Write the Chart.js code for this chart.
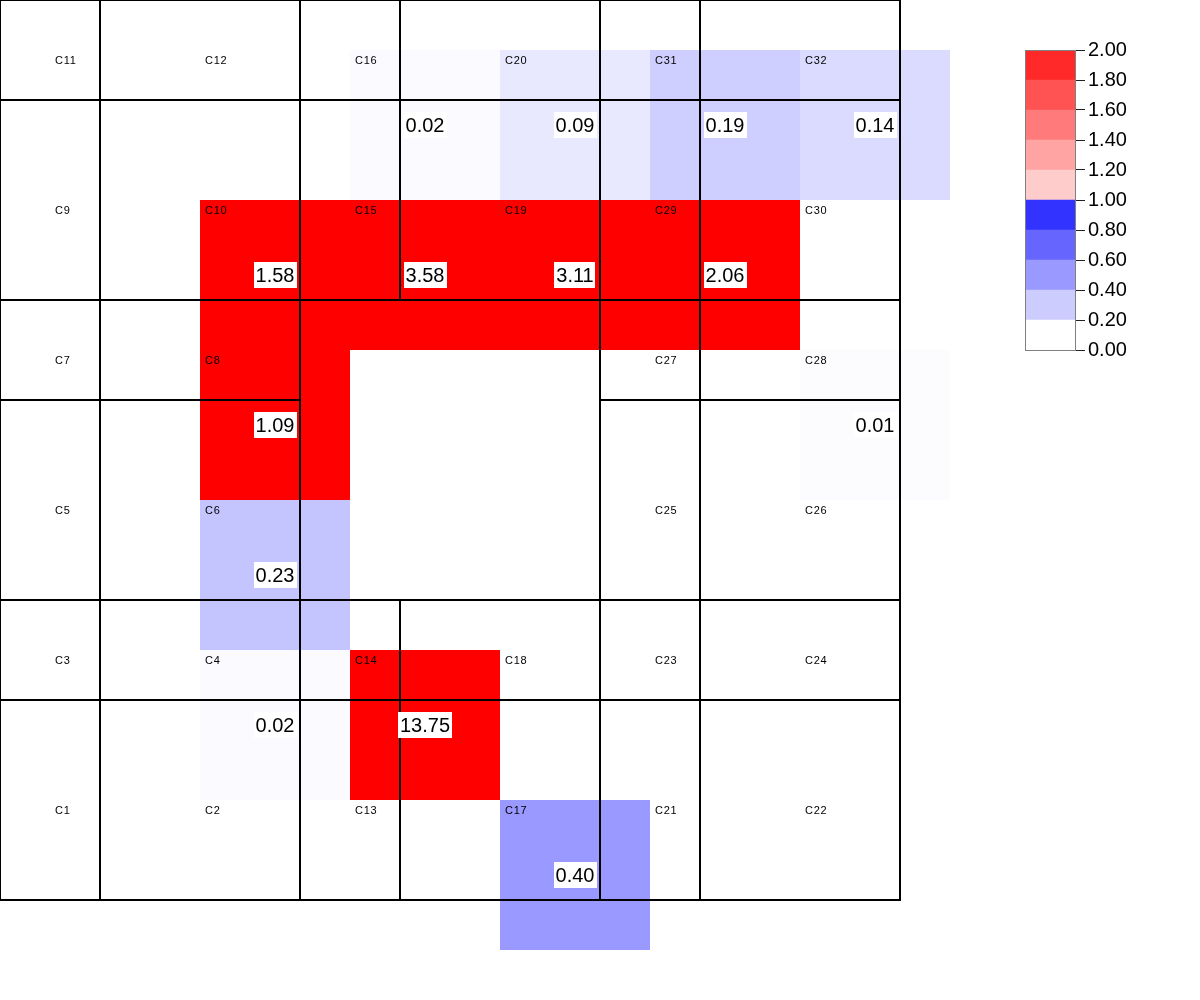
<!DOCTYPE html>
<html>
<head>
<meta charset="utf-8">
<script src="https://cdn.jsdelivr.net/npm/chart.js@4.4.1/dist/chart.umd.min.js"></script>
<style>
  html, body { margin: 0; padding: 0; background: #fff; }
  #wrap { position: relative; width: 1200px; height: 1000px; }
  #main { position: absolute; left: 0; top: 0; }
  #cbar { position: absolute; left: 1000px; top: 0; }
</style>
</head>
<body>
<div id="wrap">
  <canvas id="main" width="1200" height="1000"></canvas>
  <canvas id="cbar" width="200" height="400"></canvas>
</div>
<script>
// ---------------- DATA ----------------
const rooms = ['C1','C2','C3','C4','C5','C6','C7','C8','C9','C10','C11','C12','C13','C14','C15','C16',
               'C17','C18','C19','C20','C21','C22','C23','C24','C25','C26','C27','C28','C29','C30','C31','C32'];
// grid column / row of each room (0 = left / top)
const roomCol = [0,1,0,1,0,1,0,1,0,1,0,1,2,2,2,2, 3,3,3,3,4,5,4,5,4,5,4,5,4,5,4,5];
const roomRow = [5,5,4,4,3,3,2,2,1,1,0,0,5,4,1,0, 5,4,1,0,5,5,4,4,3,3,2,2,1,1,0,0];
// measured value per room (null = no value)
const roomValues = [null,null,null,0.02,null,0.23,null,1.09,null,1.58,null,null,null,13.75,3.58,0.02,
                    0.40,null,3.11,0.09,null,null,null,null,null,null,null,0.01,2.06,null,0.19,0.14];
// floor-plan wall edges (plan units) for the columns / rows
const wallEdges = [0, 1, 3, 4, 6, 7, 9];
// colour bar
const cbLower = [0.0,0.2,0.4,0.6,0.8,1.0,1.2,1.4,1.6,1.8];
const cbUpper = [0.2,0.4,0.6,0.8,1.0,1.2,1.4,1.6,1.8,2.0];
const cbColors = ['#ffffff','#ccccff','#9999ff','#6666ff','#3333ff','#ffcccc','#ffa3a3','#ff7a7a','#ff5252','#ff2929'];
const cbTickMin = 0, cbTickMax = 2, cbTickStep = 0.2;

// ---------------- LAYOUT ----------------
const HEAT_ORIGIN = 0.5, HEAT_SIZE = 1.5;

function heatColor(v) {
  if (v >= 1) return 'rgb(255,0,0)';
  const c = Math.round(255 * (1 - v));
  return `rgb(${c},${c},255)`;
}

const floorPlugin = {
  id: 'floor',
  afterDatasetsDraw(chart) {
    const { ctx, scales: { x, y } } = chart;
    const px = v => x.getPixelForValue(v);
    const py = v => y.getPixelForValue(v);
    ctx.save();
    // heat cells
    rooms.forEach((r, i) => {
      const v = roomValues[i];
      if (v == null) return;
      const x0 = HEAT_ORIGIN + HEAT_SIZE * roomCol[i];
      const y0 = HEAT_ORIGIN + HEAT_SIZE * roomRow[i];
      ctx.fillStyle = heatColor(v);
      ctx.fillRect(px(x0), py(y0), px(x0 + HEAT_SIZE) - px(x0), py(y0 + HEAT_SIZE) - py(y0));
    });
    // walls
    ctx.strokeStyle = '#000';
    ctx.lineWidth = 2;
    rooms.forEach((r, i) => {
      const xa = px(wallEdges[roomCol[i]]), xb = px(wallEdges[roomCol[i] + 1]);
      const ya = py(wallEdges[roomRow[i]]), yb = py(wallEdges[roomRow[i] + 1]);
      ctx.strokeRect(xa, ya, xb - xa, yb - ya);
    });
    // room names
    ctx.font = '11px "Liberation Sans", Arial, sans-serif';
    if ('letterSpacing' in ctx) ctx.letterSpacing = '0.7px';
    ctx.fillStyle = '#000';
    ctx.textAlign = 'left';
    ctx.textBaseline = 'middle';
    rooms.forEach((r, i) => {
      const x0 = HEAT_ORIGIN + HEAT_SIZE * roomCol[i];
      const y0 = HEAT_ORIGIN + HEAT_SIZE * roomRow[i];
      ctx.fillText(r, px(x0) + 5, py(y0) + 11);
    });
    if ('letterSpacing' in ctx) ctx.letterSpacing = '0px';
    // value labels
    ctx.font = '20px "Liberation Sans", Arial, sans-serif';
    ctx.textAlign = 'center';
    rooms.forEach((r, i) => {
      const v = roomValues[i];
      if (v == null) return;
      const t = v.toFixed(2);
      const cx = px(HEAT_ORIGIN + HEAT_SIZE * roomCol[i] + HEAT_SIZE / 2);
      const cy = py(HEAT_ORIGIN + HEAT_SIZE * roomRow[i] + HEAT_SIZE / 2);
      const w = ctx.measureText(t).width;
      ctx.fillStyle = '#fff';
      ctx.fillRect(Math.round(cx - w / 2 - 2), Math.round(cy - 13), Math.round(w + 4), 26);
      ctx.fillStyle = '#000';
      ctx.fillText(t, cx, cy + 1);
    });
    ctx.restore();
  }
};

new Chart(document.getElementById('main'), {
  type: 'scatter',
  data: {
    datasets: [{
      label: 'rooms',
      data: rooms.map((r, i) => ({ x: HEAT_ORIGIN + HEAT_SIZE * roomCol[i], y: HEAT_ORIGIN + HEAT_SIZE * roomRow[i] })),
      pointRadius: 0
    }]
  },
  options: {
    responsive: false,
    animation: false,
    layout: { padding: 0 },
    plugins: { legend: { display: false }, tooltip: { enabled: false } },
    scales: {
      x: { type: 'linear', min: 0, max: 12, display: false },
      y: { type: 'linear', min: 0, max: 10, reverse: true, display: false }
    }
  },
  plugins: [floorPlugin]
});

// colour bar
const cbBorder = {
  id: 'cbBorder',
  afterDatasetsDraw(chart) {
    const { ctx, chartArea: a } = chart;
    ctx.save();
    ctx.strokeStyle = '#808080';
    ctx.lineWidth = 1;
    ctx.strokeRect(a.left + 0.5, a.top + 0.5, a.right - a.left, a.bottom - a.top);
    ctx.restore();
  }
};

new Chart(document.getElementById('cbar'), {
  type: 'bar',
  data: {
    labels: [''],
    datasets: cbLower.map((lo, i) => ({
      data: [[lo, cbUpper[i]]],
      backgroundColor: cbColors[i],
      borderWidth: 0,
      barPercentage: 1,
      categoryPercentage: 1,
      grouped: false
    }))
  },
  options: {
    responsive: false,
    animation: false,
    layout: { padding: { left: 25, right: 0, top: 50, bottom: 50 } },
    plugins: { legend: { display: false }, tooltip: { enabled: false } },
    scales: {
      x: { display: false },
      y: {
        position: 'right',
        min: cbTickMin, max: cbTickMax,
        afterFit: s => { s.width = 125; },
        afterBuildTicks: s => {
          const t = [];
          for (let k = 0; k <= Math.round((cbTickMax - cbTickMin) / cbTickStep); k++) t.push({ value: cbTickMin + k * cbTickStep });
          s.ticks = t;
        },
        ticks: {
          autoSkip: false,
          padding: 3,
          color: '#000',
          font: { family: '"Liberation Sans", Arial, sans-serif', size: 20 },
          callback: v => Number(v).toFixed(2)
        },
        grid: { drawOnChartArea: false, tickLength: 10, color: '#222', lineWidth: 1 },
        border: { display: true, color: '#808080' }
      }
    }
  },
  plugins: [cbBorder]
});
</script>
</body>
</html>
